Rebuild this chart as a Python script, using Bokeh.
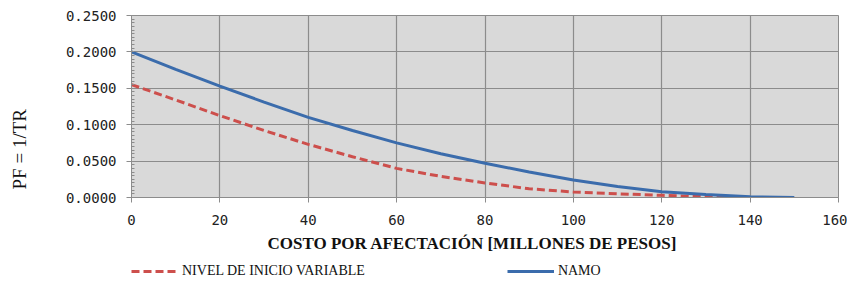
from bokeh.plotting import figure
from bokeh.layouts import column
from bokeh.models import (Range1d, SingleIntervalTicker, PrintfTickFormatter, Title,
                          Legend, LegendItem, ColumnDataSource)
from bokeh.embed import file_html
from bokeh.resources import INLINE

# ---- data ----
costo_namo = [0, 10, 20, 30, 40, 50, 60, 70, 80, 90, 100, 110, 120, 130, 140, 150]
pf_namo = [0.200, 0.176, 0.153, 0.131, 0.110, 0.092, 0.075, 0.060, 0.047, 0.035,
           0.024, 0.015, 0.008, 0.004, 0.001, 0.000]
costo_nivel = [0, 10, 20, 30, 40, 50, 60, 70, 80, 90, 100, 110, 120, 130, 136]
pf_nivel = [0.155, 0.134, 0.1125, 0.092, 0.073, 0.056, 0.040, 0.029, 0.020, 0.012,
            0.0075, 0.005, 0.003, 0.001, 0.000]

name_nivel = "NIVEL DE INICIO VARIABLE"
name_namo = "NAMO"
x_title = "COSTO POR AFECTACIÓN  [MILLONES DE PESOS]"
y_title = "PF = 1/TR"

GRID = "#8c8c8c"
RED = "#cd4f4c"
BLUE = "#3b6cac"
TXT = "#111111"

p = figure(width=847, height=258, output_backend="svg", toolbar_location=None,
           x_range=Range1d(0, 160), y_range=Range1d(0, 0.25),
           min_border_left=131, min_border_right=9, min_border_top=15, min_border_bottom=61)
p.background_fill_color = "#d9d9d9"
p.border_fill_color = "white"
p.outline_line_color = GRID
p.outline_line_width = 1

p.xaxis.ticker = SingleIntervalTicker(interval=20, num_minor_ticks=0)
p.yaxis.ticker = SingleIntervalTicker(interval=0.05, num_minor_ticks=10)
p.yaxis.formatter = PrintfTickFormatter(format="%.4f")

for ax in (p.xaxis[0], p.yaxis[0]):
    ax.axis_line_color = GRID
    ax.major_tick_line_color = GRID
    ax.minor_tick_line_color = GRID
    ax.major_tick_out = 5
    ax.major_tick_in = 0
    ax.minor_tick_in = 3
    ax.minor_tick_out = 0
    ax.major_label_text_font = "DejaVu Sans Mono"
    ax.major_label_text_font_size = "14px"
    ax.major_label_text_color = "#222222"
p.xaxis.major_label_standoff = 12
p.yaxis.major_label_standoff = 10

# y title: trailing no-break spaces move the visible text down the axis
p.yaxis.axis_label = y_title + "\u00a0" * 18
p.yaxis.axis_label_text_font = "Liberation Serif"
p.yaxis.axis_label_text_font_style = "normal"
p.yaxis.axis_label_text_font_size = "19px"
p.yaxis.axis_label_text_color = TXT
p.yaxis.axis_label_standoff = 33

p.xgrid.grid_line_color = GRID
p.ygrid.grid_line_color = GRID
p.xgrid.grid_line_width = 1.2
p.ygrid.grid_line_width = 1.2

src_nivel = ColumnDataSource(dict(x=costo_nivel, y=pf_nivel))
src_namo = ColumnDataSource(dict(x=costo_namo, y=pf_namo))
p.line("x", "y", source=src_nivel, line_color=RED, line_width=3, line_dash="8 4")
p.line("x", "y", source=src_namo, line_color=BLUE, line_width=3)

xt = Title(text=x_title, align="left", offset=136, text_font="Liberation Serif",
           text_font_style="bold", text_font_size="17px", text_color=TXT, standoff=8)
p.add_layout(xt, "below")

# legend strip below the chart (its series lie outside its own visible range)
p2 = figure(width=847, height=28, output_backend="svg", toolbar_location=None,
            x_axis_type=None, y_axis_type=None,
            x_range=Range1d(-1000, -999), y_range=Range1d(-1000, -999),
            min_border=0, outline_line_color=None)
p2.background_fill_color = "white"
p2.border_fill_color = "white"
k_nivel = p2.line("x", "y", source=src_nivel, line_color=RED, line_width=3, line_dash="8 4")
k_namo = p2.line("x", "y", source=src_namo, line_color=BLUE, line_width=3)
lg = Legend(items=[LegendItem(label=name_nivel, renderers=[k_nivel]),
                   LegendItem(label=name_namo, renderers=[k_namo])],
            location=(0, 7), orientation="horizontal", glyph_width=47, glyph_height=14,
            label_standoff=4, padding=0, margin=0, spacing=142,
            border_line_color=None, background_fill_alpha=0,
            label_text_font="Liberation Serif", label_text_font_size="14px",
            label_text_color=TXT, label_height=14)
p2.add_layout(lg)

open("out.html", "w").write(file_html(column(p, p2, spacing=0), INLINE))
